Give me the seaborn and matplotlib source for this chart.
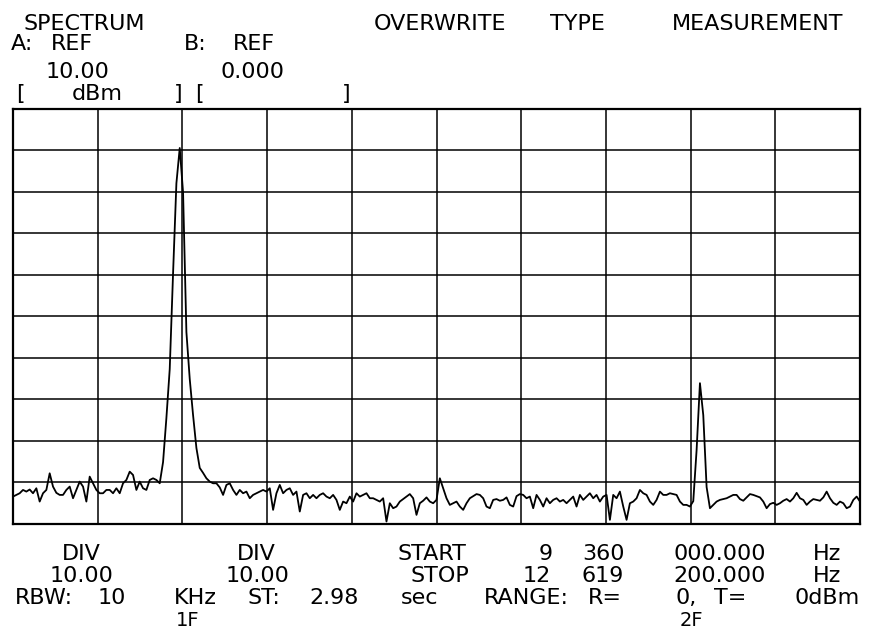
import numpy as np
import pandas as pd
import matplotlib
matplotlib.use("Agg")
import matplotlib.pyplot as plt
import seaborn as sns

# ---------------- data ----------------
START_MHZ = 9.360
STOP_MHZ = 12.6192
REF_DBM = 10.0
DIV_DB = 10.0
N_DIV = 10

# trace level (dBm), one sample per sweep point
level_dbm = [
    -83.4, -83.0, -82.6, -81.8, -82.2, -81.7, -82.6, -81.4, -84.6, -82.6,
    -81.8, -77.8, -81.0, -82.5, -83.0, -83.0, -81.8, -81.0, -83.8, -81.8,
    -79.8, -81.0, -84.6, -78.6, -80.2, -81.8, -82.6, -82.6, -81.8, -81.8,
    -82.6, -81.4, -82.6, -80.2, -79.4, -77.4, -78.2, -81.8, -79.8, -81.4,
    -81.8, -79.4, -79.0, -79.4, -80.2, -75.1, -64.5, -52.7, -29.7, -8.0,
    0.5, -10.2, -43.8, -55.1, -63.8, -71.7, -76.5, -77.7, -79.0, -79.8,
    -80.2, -80.2, -81.2, -83.0, -80.6, -80.2, -81.8, -83.0, -81.8, -82.6,
    -82.2, -83.8, -83.0, -82.6, -82.2, -81.8, -82.2, -81.4, -86.6, -82.6,
    -80.6, -82.6, -81.8, -81.4, -83.0, -82.2, -87.0, -83.0, -82.6, -83.8,
    -83.0, -83.8, -83.0, -82.6, -83.4, -83.8, -83.0, -84.2, -86.6, -84.6,
    -85.0, -83.4, -84.6, -82.6, -83.4, -83.0, -82.6, -83.8, -83.8, -84.2,
    -84.6, -83.8, -89.4, -85.0, -86.2, -85.8, -84.6, -84.0, -83.4, -82.8,
    -83.8, -87.8, -85.0, -84.4, -83.6, -84.6, -85.0, -84.2, -79.0, -81.4,
    -83.8, -85.4, -85.0, -84.6, -85.8, -86.6, -85.0, -83.8, -83.3, -82.8,
    -83.0, -83.8, -85.8, -86.2, -84.2, -84.0, -84.4, -84.2, -83.6, -85.4,
    -85.8, -83.3, -82.8, -83.0, -83.8, -83.4, -86.2, -83.0, -84.2, -85.8,
    -83.8, -85.0, -84.2, -83.8, -84.6, -84.2, -85.0, -84.2, -83.4, -85.8,
    -83.0, -84.2, -83.4, -82.6, -83.8, -83.0, -84.6, -83.4, -83.0, -89.0,
    -83.0, -83.8, -82.2, -85.8, -89.0, -85.0, -84.6, -83.8, -81.8, -82.6,
    -83.0, -84.6, -85.4, -84.2, -82.2, -83.0, -83.0, -82.6, -82.8, -83.0,
    -84.6, -85.4, -85.4, -85.8, -84.5, -72.2, -56.1, -63.8, -81.1, -86.2,
    -85.4, -84.6, -84.2, -84.0, -83.8, -83.4, -83.0, -83.0, -84.0, -84.4,
    -83.6, -82.8, -83.0, -83.3, -83.6, -84.6, -86.2, -85.2, -84.9, -85.4,
    -85.0, -84.4, -84.0, -84.6, -83.8, -82.5, -83.8, -84.2, -85.4, -84.6,
    -84.0, -84.2, -84.4, -83.6, -82.2, -83.8, -84.9, -85.4, -84.6, -85.0,
    -86.2, -85.8, -84.2, -83.4, -84.6,
]
freq_mhz = np.linspace(START_MHZ, STOP_MHZ, len(level_dbm))

header_texts = ["SPECTRUM", "OVERWRITE", "TYPE", "MEASUREMENT",
                "A:", "REF", "B:", "REF",
                "10.00", "0.000",
                "[", "dBm", "]", "[", "]"]
footer_texts = ["DIV", "DIV", "START", "9", "360", "000.000", "Hz",
                "10.00", "10.00", "STOP", "12", "619", "200.000", "Hz",
                "RBW:", "10", "KHz", "ST:", "2.98", "sec", "RANGE:", "R=", "0,", "T=", "0dBm"]
marker_texts = ["1F", "2F"]

# ---------------- layout (pixels) ----------------
W, H = 870, 630
header_pos = [(84.5, 30), (440, 30), (577, 30), (757.5, 30),
              (22.5, 50), (72, 50), (195, 50), (254, 50),
              (77.5, 78), (252, 78),
              (20, 100), (97.5, 100), (178.5, 100), (199, 100), (346.5, 100)]
footer_pos = [(81, 560), (256, 560), (432, 560), (545.5, 560), (603, 560), (720, 560), (827.5, 560),
              (82, 582), (257.5, 582), (440, 582), (536.5, 582), (603, 582), (720, 582), (827.5, 582),
              (43.5, 604), (111.5, 604), (195, 604), (264, 604), (334, 604), (420, 604),
              (526, 604), (604.5, 604), (686.5, 604), (730.5, 604), (827.5, 604)]
marker_pos = [(188, 626), (691.5, 626)]

sns.set_style("white")
plt.rcParams['font.family'] = ['DejaVu Sans']

fig = plt.figure(figsize=(W / 100, H / 100), dpi=100)
left, right, top, bottom = 13, 860, 108.5, 524
ax = fig.add_axes([left / W, 1 - bottom / H, (right - left) / W, (bottom - top) / H])

df = pd.DataFrame({"freq": freq_mhz, "level": level_dbm})
sns.lineplot(data=df, x="freq", y="level", ax=ax, color="black", linewidth=1.3,
             estimator=None, sort=False, legend=False)

ax.set_xlim(START_MHZ, STOP_MHZ)
ax.set_ylim(REF_DBM - N_DIV * DIV_DB, REF_DBM)
ax.set_xticks(np.linspace(START_MHZ, STOP_MHZ, N_DIV + 1))
ax.set_yticks(np.linspace(REF_DBM - N_DIV * DIV_DB, REF_DBM, N_DIV + 1))
ax.tick_params(length=0, labelbottom=False, labelleft=False)
ax.grid(True, color="black", linewidth=1.1)
ax.set_xlabel("")
ax.set_ylabel("")
for sp in ax.spines.values():
    sp.set_color("black")
    sp.set_linewidth(1.6)
    sp.set_visible(True)

for s, (x, y) in zip(header_texts, header_pos):
    fig.text(x / W, 1 - y / H, s, ha="center", va="baseline", fontsize=16, color="black")
for s, (x, y) in zip(footer_texts, footer_pos):
    fig.text(x / W, 1 - y / H, s, ha="center", va="baseline", fontsize=16, color="black")
for s, (x, y) in zip(marker_texts, marker_pos):
    fig.text(x / W, 1 - y / H, s, ha="center", va="baseline", fontsize=14, color="black")

fig.savefig("out.png", dpi=100, facecolor="white")
